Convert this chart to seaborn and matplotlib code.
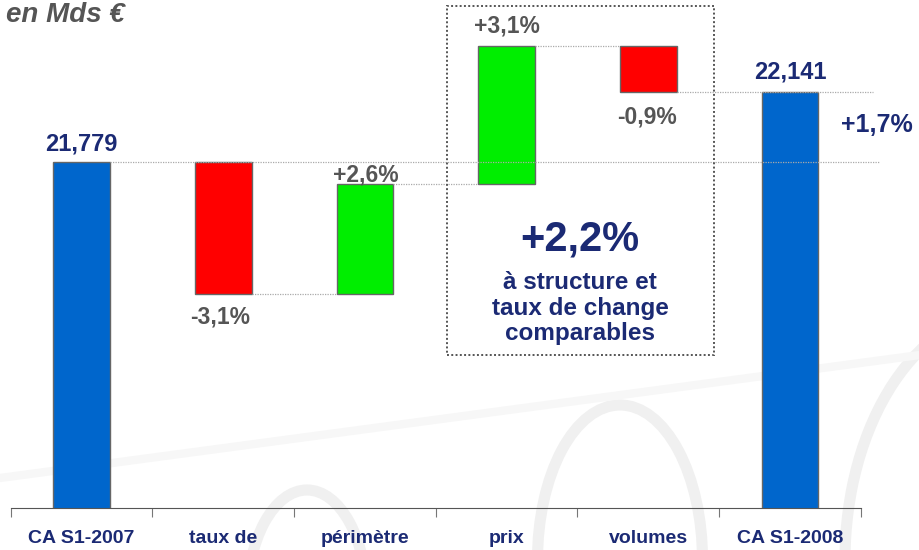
import numpy as np
import matplotlib.pyplot as plt
from matplotlib.patches import Arc, Rectangle
import seaborn as sns

# data (Mds €)
categories = ["CA S1-2007", "taux de", "périmètre", "prix", "volumes", "CA S1-2008"]
start_value = 21.779
end_value = 22.141
step_changes = [-0.683, 0.569, 0.714, -0.238]
step_labels = ["-3,1%", "+2,6%", "+3,1%", "-0,9%"]
total_labels = ["21,779", "22,141"]
growth_label = "+1,7%"
organic_label = "+2,2%"
organic_text = "à structure et\ntaux de change\ncomparables"

navy = "#1B2A74"
grey_txt = "#555555"
bar_colors = ["#0066CC", "#FF0000", "#00EE00", "#00EE00", "#FF0000", "#0066CC"]

levels = start_value + np.cumsum([0] + step_changes)
bottoms = [0] + [min(levels[i], levels[i + 1]) for i in range(4)] + [0]
heights = [start_value] + [abs(d) for d in step_changes] + [end_value]

sns.set_style("white")
plt.rcParams["font.family"] = ["Liberation Sans", "DejaVu Sans"]

fig = plt.figure(figsize=(9.2, 5.5), dpi=100)

# faint watermark arcs in the background
bg = fig.add_axes([0, 0, 1, 1], zorder=0)
bg.set_xlim(0, 920)
bg.set_ylim(550, 0)
bg.axis("off")
for (cx, cy, w, h) in [(620, 560, 165, 310), (307, 600, 120, 220), (1010, 560, 330, 500)]:
    bg.add_patch(Arc((cx, cy), w, h, theta1=180, theta2=360, color="#f0f0f0", lw=8))
bg.plot([0, 920], [478, 355], color="#f7f7f7", lw=6)

ax = fig.add_axes([0, 42 / 550, 1, 508 / 550], zorder=1)
ax.patch.set_alpha(0)

sns.barplot(x=categories, y=heights, bottom=bottoms, width=0.4, color=bar_colors[0],
            edgecolor="#666666", linewidth=1, ax=ax, zorder=2)
for p, c in zip(ax.patches, bar_colors):
    p.set_facecolor(c)

ax.set_xlim(-0.575, 5.918)
ax.set_ylim(19.99, 22.617)

# connector lines
dot = dict(color="#aaaaaa", lw=0.9, linestyle=(0, (1, 1)), zorder=3)
ax.hlines(levels[0], 0.2, 5.635, **dot)
for i in range(1, 4):
    ax.hlines(levels[i], i + 0.2, i + 0.8, **dot)
ax.hlines(levels[4], 4.2, 5.586, **dot)

# dotted box around price/volume effect
ax.add_patch(Rectangle((2.58, 20.781), 4.464 - 2.58, 22.586 - 20.781, fill=False,
                       edgecolor="#555555", lw=1.4, linestyle=(0, (1, 1.2)), zorder=3))
ax.text(3.518, 21.376, organic_label, ha="center", va="center", fontsize=30,
        fontweight="bold", color=navy)
ax.text(3.518, 21.024, organic_text, ha="center", va="center", fontsize=17.5,
        fontweight="bold", color=navy, linespacing=1.12)

# value labels
ax.annotate(total_labels[0], (0, start_value), xytext=(0, 5), textcoords="offset points",
            ha="center", va="bottom", fontsize=17, fontweight="bold", color=navy)
ax.annotate(total_labels[1], (5, end_value), xytext=(0, 6), textcoords="offset points",
            ha="center", va="bottom", fontsize=17, fontweight="bold", color=navy)
offsets = [(-2, -8, "top"), (1, -2, "bottom"), (0, 6, "bottom"), (-1, -10, "top")]
for i, (lab, (dx, dy, va)) in enumerate(zip(step_labels, offsets)):
    ax.annotate(lab, (i + 1, levels[i + 1]), xytext=(dx, dy), textcoords="offset points",
                ha="center", va=va, fontsize=16.5, fontweight="bold", color=grey_txt, zorder=4)
ax.text(5.614, 21.970, growth_label, ha="center", va="center", fontsize=18,
        fontweight="bold", color=navy)

fig.text(0.006, 0.972, "en Mds €", ha="left", va="center", fontsize=20,
         fontweight="bold", fontstyle="italic", color=grey_txt)

# axis styling
for s in ["top", "right", "left"]:
    ax.spines[s].set_visible(False)
ax.spines["bottom"].set_bounds(-0.5, 5.5)
ax.spines["bottom"].set_color("#555555")
ax.set_yticks([])
ax.set_xticks(range(6))
ax.set_xticklabels(categories, fontsize=14, fontweight="bold", color=navy)
ax.set_xticks(np.arange(-0.5, 6, 1), minor=True)
ax.tick_params(axis="x", which="major", length=0, pad=16)
ax.tick_params(axis="x", which="minor", length=6.5, color="#777777", width=0.8, bottom=True)
ax.set_xlabel("")
ax.set_ylabel("")

fig.savefig("out.png", dpi=100)
